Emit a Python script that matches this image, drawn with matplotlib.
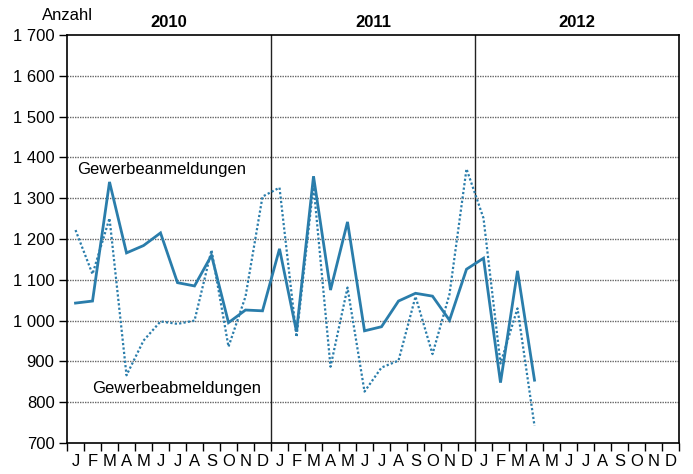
import numpy as np
import matplotlib.pyplot as plt
from matplotlib.ticker import FuncFormatter

plt.rcParams["font.family"] = ["Liberation Sans", "DejaVu Sans"]

# monthly counts Jan 2010 - Apr 2012
anmeldungen = [1043, 1048, 1340, 1166, 1184, 1215, 1093, 1085, 1160, 995, 1026, 1024,
               1176, 973, 1354, 1075, 1242, 975, 985, 1048, 1067, 1060, 1001, 1126,
               1153, 848, 1122, 854]
abmeldungen = [1222, 1114, 1251, 866, 951, 998, 992, 1000, 1173, 936, 1059, 1304,
               1326, 960, 1332, 887, 1081, 826, 885, 902, 1059, 918, 1065, 1372,
               1251, 895, 1030, 742]
years = ["2010", "2011", "2012"]
month_labels = list("JFMAMJJASOND") * 3

col = "#2a7dab"

fig = plt.figure(figsize=(6.93, 4.74), dpi=100)
ax = fig.add_axes([0.0967, 0.0654, 0.8831, 0.8606])

x = np.arange(len(anmeldungen)) + 0.5
ax.plot(x, anmeldungen, color=col, lw=2.0, solid_joinstyle="miter")
ax.plot(x, abmeldungen, color=col, lw=1.6, linestyle=(0, (1, 1)))

ax.set_xlim(0, 36)
ax.set_ylim(700, 1700)

# grid
for v in range(800, 1700, 100):
    ax.axhline(v, color="#666666", lw=1.0, linestyle=(0, (1, 0.8)), zorder=0)
for b in (12, 24):
    ax.axvline(b, color="#222222", lw=1.0, zorder=0)

ax.set_yticks(range(700, 1800, 100))
ax.yaxis.set_major_formatter(FuncFormatter(lambda v, p: f"{int(v):,}".replace(",", " ")))
ax.set_xticks(np.arange(37), minor=True)
ax.set_xticks(np.arange(36) + 0.5)
ax.set_xticklabels(month_labels)
ax.tick_params(axis="x", which="major", length=0, pad=8, labelsize=12)
ax.tick_params(axis="x", which="minor", length=6, width=1, direction="out")
ax.tick_params(axis="y", length=6, width=1, direction="out", labelsize=12, pad=3)

for s in ax.spines.values():
    s.set_linewidth(1.2)
    s.set_color("black")

for i, yr in enumerate(years):
    ax.text(i * 12 + 6, 1712, yr, ha="center", va="bottom", fontsize=12, fontweight="bold")
ax.text(-0.041, 1.03, "Anzahl", transform=ax.transAxes, ha="left", va="bottom", fontsize=12)

ax.text(0.6, 1370, "Gewerbeanmeldungen", ha="left", va="center", fontsize=12)
ax.text(1.5, 833, "Gewerbeabmeldungen", ha="left", va="center", fontsize=12)

fig.savefig("out.png", dpi=100)
